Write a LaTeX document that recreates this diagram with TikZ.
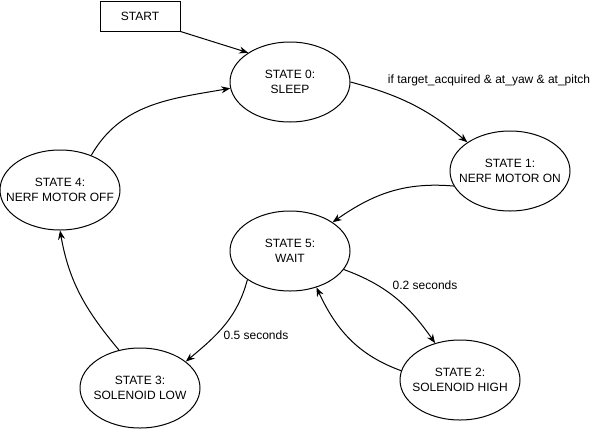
\documentclass[tikz,border=0pt]{standalone}
\usepackage{fontspec}
\setmainfont{Liberation Sans}
\usetikzlibrary{shapes.geometric,arrows.meta}
\begin{document}
\begin{tikzpicture}[x=1pt,y=-1pt,
  every node/.style={font=\fontsize{12}{15}\selectfont},
  stnode/.style={draw,ellipse,line width=1pt,minimum width=120pt,minimum height=80pt,inner sep=0pt},
  sttext/.style={label={[align=center,inner sep=0pt,font=\fontsize{12}{15}\selectfont]center:#1}},
  boxnode/.style={draw,rectangle,line width=1pt,minimum width=80pt,minimum height=30pt,inner sep=0pt},
  lbl/.style={inner sep=0pt},
  conn/.style={line width=1pt,-{Stealth[length=9pt,width=7pt]}}]
\useasboundingbox (0,0) rectangle (601,431);
\node[boxnode] (start) at (140,16) {START};
\node[stnode,sttext={STATE 0:\\SLEEP}] (s0) at (290,82) {};
\node[stnode,sttext={STATE 1:\\NERF MOTOR ON}] (s1) at (510,171) {};
\node[stnode,sttext={STATE 4:\\NERF MOTOR OFF}] (s4) at (60,190) {};
\node[stnode,sttext={STATE 5:\\WAIT}] (s5) at (290,251) {};
\node[stnode,sttext={STATE 2:\\SOLENOID HIGH}] (s2) at (460,380) {};
\node[stnode,sttext={STATE 3:\\SOLENOID LOW}] (s3) at (140,388) {};
\node[lbl] (l01) at (489,80) {if target\_acquired \& at\_yaw \& at\_pitch};
\node[lbl] (l52) at (425,285) {0.2 seconds};
\node[lbl] (l53) at (256,335) {0.5 seconds};
\draw[conn] (start.south east) -- (s0.145);
\draw[conn] (s4.48) to[out=60,in=190] (s0.186);
\draw[conn] (s0.east) to[out=-15,in=140] (s1.146);
\draw[conn] (s1.195) to[out=175,in=35] (s5.34);
\draw[conn] (s5.-19) to[out=-20,in=125] (s2.124);
\draw[conn] (s2.171) to[out=160,in=-65] (s5.-54);
\draw[conn] (s5.214) to[out=-105,in=40] (s3.30);
\draw[conn] (s3.119) to[out=130,in=-80] (s4.south);
\end{tikzpicture}
\end{document}
